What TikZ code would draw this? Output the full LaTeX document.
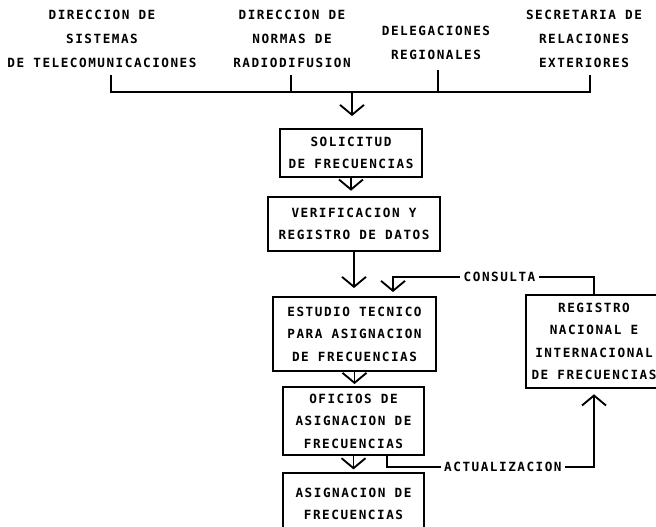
\documentclass[tikz,border=0pt]{standalone}
\usepackage{fontspec}
\newfontfamily\typefont[LetterSpace=12]{DejaVu Sans Mono}
\usetikzlibrary{arrows.meta}

\begin{document}
\begin{tikzpicture}[x=0.75pt, y=-0.75pt,
    box/.style={draw, line width=1.4pt, align=center, inner sep=0pt, font=\typefont\bfseries\fontsize{9.5}{16.9}\selectfont},
    origin/.style={align=center, inner sep=0pt, font=\typefont\bfseries\fontsize{9.5}{18}\selectfont},
    flow/.style={-{Straight Barb[length=7.5pt, width=18pt]}, line width=1.4pt},
    lbl/.style={fill=white, inner sep=2.5pt, font=\typefont\bfseries\fontsize{9.5}{16.9}\selectfont}
]
\useasboundingbox (0,0) rectangle (656,526);

% Offices that send requests
\node[origin] (sistemas) at (102,39) {DIRECCION DE\\SISTEMAS\\DE TELECOMUNICACIONES};
\node[origin] (normas) at (292,39) {DIRECCION DE\\NORMAS DE\\RADIODIFUSION};
\node[origin] (delegaciones) at (436,43) {DELEGACIONES\\REGIONALES};
\node[origin] (secretaria) at (584,39) {SECRETARIA DE\\RELACIONES\\EXTERIORES};

% Process boxes
\node[box, minimum width=106.5pt, minimum height=36pt] (solicitud) at (351,153) {SOLICITUD\\DE FRECUENCIAS};
\node[box, minimum width=129pt, minimum height=40.5pt] (verificacion) at (354,224) {VERIFICACION Y\\REGISTRO DE DATOS};
\node[box, minimum width=122.25pt, minimum height=55.5pt] (estudio) at (354.5,334) {ESTUDIO TECNICO\\PARA ASIGNACION\\DE FRECUENCIAS};
\node[box, minimum width=105.75pt, minimum height=51pt] (oficios) at (353.5,421) {OFICIOS DE\\ASIGNACION DE\\FRECUENCIAS};
\node[box, minimum width=105.75pt, minimum height=46.5pt] (asignacion) at (353.5,504) {ASIGNACION DE\\FRECUENCIAS};
\node[box, minimum width=102pt, minimum height=69.75pt] (registro) at (594,341.5) {REGISTRO\\NACIONAL E\\INTERNACIONAL\\DE FRECUENCIAS};

% Collecting bracket
\coordinate (k1) at (111,75);
\coordinate (k2) at (291,75);
\coordinate (k3) at (438,70);
\coordinate (k4) at (590,75);
\coordinate (bar) at (352,92);
\draw[line width=1.4pt] (k1) |- (bar) -| (k4);
\draw[line width=1.4pt] (k2) -- (k2 |- bar);
\draw[line width=1.4pt] (k3) -- (k3 |- bar);

% Main flow
\draw[flow, shorten >=9pt] (bar) -- (bar |- solicitud.north);
\draw[flow, shorten >=4pt] (solicitud.south) -- (solicitud.south |- verificacion.north);
\draw[flow, shorten >=6pt] (verificacion.south) -- (verificacion.south |- estudio.north);
\draw[flow, shorten >=1.5pt] (estudio.south) -- (estudio.south |- oficios.north);
\draw[flow, shorten >=2pt] (oficios.south) -- (oficios.south |- asignacion.north);

% Consulta and actualizacion loops
\coordinate (cq) at (393,277);
\draw[flow, shorten >=3pt] (registro.north) |- node[lbl, pos=0.735] {CONSULTA} (cq) -- (cq |- estudio.north);
\coordinate (ca) at (387,467);
\coordinate (cb) at (594,467);
\draw[flow, shorten >=4pt] (ca |- oficios.south) |- node[lbl, pos=0.78] {ACTUALIZACION} (cb) -- (registro.south);

\end{tikzpicture}
\end{document}
